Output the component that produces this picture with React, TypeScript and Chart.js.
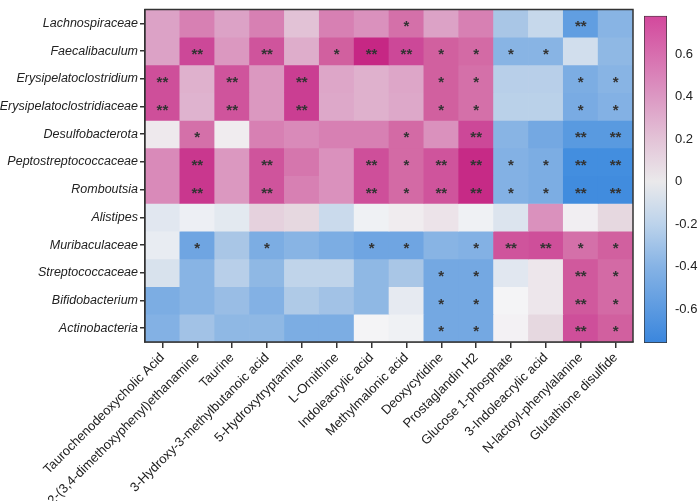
import { useEffect, useRef } from "react";
import { Chart, registerables } from "chart.js";

Chart.register(...registerables);

const FONT = "'Liberation Sans', Arial, Helvetica, sans-serif";

const metabolites = [
  "Taurochenodeoxycholic Acid",
  "2-(3,4-dimethoxyphenyl)ethanamine",
  "Taurine",
  "3-Hydroxy-3-methylbutanoic acid",
  "5-Hydroxytryptamine",
  "L-Ornithine",
  "Indoleacrylic acid",
  "Methylmalonic acid",
  "Deoxycytidine",
  "Prostaglandin H2",
  "Glucose 1-phosphate",
  "3-Indoleacrylic acid",
  "N-lactoyl-phenylalanine",
  "Glutathione disulfide",
];

const taxa = [
  "Lachnospiraceae",
  "Faecalibaculum",
  "Erysipelatoclostridium",
  "Erysipelatoclostridiaceae",
  "Desulfobacterota",
  "Peptostreptococcaceae",
  "Romboutsia",
  "Alistipes",
  "Muribaculaceae",
  "Streptococcaceae",
  "Bifidobacterium",
  "Actinobacteria",
];

// correlation values, one array per taxon (columns follow metabolites)
const lachnospiraceae = [0.35, 0.45, 0.35, 0.45, 0.2, 0.45, 0.4, 0.5, 0.35, 0.45, -0.3, -0.2, -0.55, -0.4];
const faecalibaculum = [0.35, 0.65, 0.38, 0.6, 0.3, 0.55, 0.75, 0.65, 0.55, 0.52, -0.4, -0.4, -0.15, -0.38];
const erysipelatoclostridium = [0.62, 0.28, 0.6, 0.38, 0.68, 0.33, 0.28, 0.33, 0.55, 0.5, -0.25, -0.25, -0.45, -0.4];
const erysipelatoclostridiaceae = [0.62, 0.27, 0.6, 0.38, 0.68, 0.32, 0.28, 0.32, 0.55, 0.5, -0.24, -0.24, -0.46, -0.42];
const desulfobacterota = [0.04, 0.5, 0.03, 0.45, 0.42, 0.45, 0.45, 0.52, 0.4, 0.65, -0.4, -0.48, -0.58, -0.58];
const peptostreptococcaceae = [0.42, 0.7, 0.38, 0.6, 0.48, 0.4, 0.62, 0.52, 0.6, 0.74, -0.42, -0.45, -0.68, -0.68];
const romboutsia = [0.42, 0.7, 0.38, 0.6, 0.45, 0.4, 0.62, 0.52, 0.6, 0.74, -0.42, -0.45, -0.7, -0.7];
const alistipes = [-0.08, -0.03, -0.07, 0.13, 0.1, -0.18, -0.02, 0.03, 0.06, -0.02, -0.1, 0.4, 0.02, 0.1];
const muribaculaceae = [-0.05, -0.5, -0.3, -0.45, -0.4, -0.45, -0.5, -0.5, -0.4, -0.42, 0.6, 0.62, 0.5, 0.55];
const streptococcaceae = [-0.12, -0.4, -0.25, -0.38, -0.22, -0.22, -0.38, -0.3, -0.48, -0.48, -0.08, 0.05, 0.58, 0.52];
const bifidobacterium = [-0.45, -0.4, -0.35, -0.42, -0.28, -0.32, -0.38, -0.06, -0.48, -0.48, 0.0, 0.05, 0.58, 0.52];
const actinobacteria = [-0.42, -0.32, -0.38, -0.38, -0.45, -0.45, 0.0, -0.02, -0.48, -0.48, 0.01, 0.1, 0.62, 0.55];

const values = [
  lachnospiraceae,
  faecalibaculum,
  erysipelatoclostridium,
  erysipelatoclostridiaceae,
  desulfobacterota,
  peptostreptococcaceae,
  romboutsia,
  alistipes,
  muribaculaceae,
  streptococcaceae,
  bifidobacterium,
  actinobacteria,
];

// significance marks per taxon
const sigLachnospiraceae = ["", "", "", "", "", "", "", "*", "", "", "", "", "**", ""];
const sigFaecalibaculum = ["", "**", "", "**", "", "*", "**", "**", "*", "*", "*", "*", "", ""];
const sigErysipelatoclostridium = ["**", "", "**", "", "**", "", "", "", "*", "*", "", "", "*", "*"];
const sigErysipelatoclostridiaceae = ["**", "", "**", "", "**", "", "", "", "*", "*", "", "", "*", "*"];
const sigDesulfobacterota = ["", "*", "", "", "", "", "", "*", "", "**", "", "", "**", "**"];
const sigPeptostreptococcaceae = ["", "**", "", "**", "", "", "**", "*", "**", "**", "*", "*", "**", "**"];
const sigRomboutsia = ["", "**", "", "**", "", "", "**", "*", "**", "**", "*", "*", "**", "**"];
const sigAlistipes = ["", "", "", "", "", "", "", "", "", "", "", "", "", ""];
const sigMuribaculaceae = ["", "*", "", "*", "", "", "*", "*", "", "*", "**", "**", "*", "*"];
const sigStreptococcaceae = ["", "", "", "", "", "", "", "", "*", "*", "", "", "**", "*"];
const sigBifidobacterium = ["", "", "", "", "", "", "", "", "*", "*", "", "", "**", "*"];
const sigActinobacteria = ["", "", "", "", "", "", "", "", "*", "*", "", "", "**", "*"];

const significance = [
  sigLachnospiraceae,
  sigFaecalibaculum,
  sigErysipelatoclostridium,
  sigErysipelatoclostridiaceae,
  sigDesulfobacterota,
  sigPeptostreptococcaceae,
  sigRomboutsia,
  sigAlistipes,
  sigMuribaculaceae,
  sigStreptococcaceae,
  sigBifidobacterium,
  sigActinobacteria,
];

const colorbarMin = -0.76;
const colorbarMax = 0.78;
const colorbarTicks = [-0.6, -0.4, -0.2, 0, 0.2, 0.4, 0.6];

// colour map for cells
const cellStops: [number, string][] = [
  [-0.78, "#3A86DD"],
  [-0.65, "#4690DF"],
  [-0.5, "#6FA5E2"],
  [-0.4, "#88B4E4"],
  [-0.3, "#A9C6E6"],
  [-0.2, "#C6D8EB"],
  [-0.1, "#DCE4EE"],
  [0, "#F4F4F6"],
  [0.1, "#E6D8E0"],
  [0.2, "#E2C2D6"],
  [0.35, "#DCA2C6"],
  [0.45, "#D780B3"],
  [0.55, "#D1609F"],
  [0.65, "#CC4898"],
  [0.78, "#C41D7E"],
];

const barStops: [number, string][] = [
  [-0.76, "#3A86DD"],
  [-0.4, "#86B3E5"],
  [-0.2, "#BCD3EB"],
  [0, "#EAE9EB"],
  [0.2, "#E3C3D7"],
  [0.4, "#DC98C3"],
  [0.78, "#D3489C"],
];

function hexToRgb(h: string) {
  return [parseInt(h.slice(1, 3), 16), parseInt(h.slice(3, 5), 16), parseInt(h.slice(5, 7), 16)];
}

function colorFor(v: number) {
  const s = cellStops;
  if (v <= s[0][0]) return s[0][1];
  if (v >= s[s.length - 1][0]) return s[s.length - 1][1];
  for (let i = 0; i < s.length - 1; i++) {
    const [a, ca] = s[i];
    const [b, cb] = s[i + 1];
    if (v >= a && v <= b) {
      const t = (v - a) / (b - a);
      const A = hexToRgb(ca);
      const B = hexToRgb(cb);
      const m = A.map((x, k) => Math.round(x + (B[k] - x) * t));
      return `rgb(${m[0]},${m[1]},${m[2]})`;
    }
  }
  return "#fff";
}

const cellPlugin = {
  id: "cellMarks",
  afterDatasetsDraw(chart: any) {
    const { ctx, scales } = chart;
    const x = scales.x;
    const y = scales.y;
    ctx.save();
    ctx.fillStyle = "#333";
    ctx.font = `bold 15px ${FONT}`;
    ctx.textAlign = "center";
    ctx.textBaseline = "middle";
    significance.forEach((row, r) => {
      row.forEach((s, c) => {
        if (!s) return;
        ctx.fillText(s, x.getPixelForValue(c), y.getPixelForValue(r + 0.5) + 4);
      });
    });
    ctx.restore();
  },
  afterDraw(chart: any) {
    const { ctx, chartArea } = chart;
    ctx.save();
    ctx.strokeStyle = "#333";
    ctx.lineWidth = 1.5;
    ctx.strokeRect(chartArea.left, chartArea.top, chartArea.right - chartArea.left, chartArea.bottom - chartArea.top);
    ctx.restore();
  },
};

export default function App() {
  const mainRef = useRef<HTMLCanvasElement>(null);
  const barRef = useRef<HTMLCanvasElement>(null);

  useEffect(() => {
    document.body.style.margin = "0";
    const main = new Chart(mainRef.current!, {
      type: "bar",
      data: {
        labels: metabolites,
        datasets: taxa.map((t, r) => ({
          label: t,
          data: metabolites.map(() => [r, r + 1]),
          backgroundColor: values[r].map(colorFor),
          borderWidth: 0,
          barPercentage: 1,
          categoryPercentage: 1,
          grouped: false,
        })) as any,
      },
      options: {
        responsive: false,
        animation: false,
        layout: { padding: { top: 2, right: 66, left: 0, bottom: 0 } },
        plugins: { legend: { display: false }, tooltip: { enabled: false } },
        scales: {
          x: {
            type: "category",
            offset: true,
            grid: { offset: false, drawOnChartArea: false, drawTicks: true, tickLength: 6, color: "#333", lineWidth: 1.5 },
            border: { display: true, color: "#333", width: 1.5 },
            ticks: {
              autoSkip: false,
              maxRotation: 45,
              minRotation: 45,
              padding: 2,
              color: "#222",
              font: { family: FONT, size: 13 },
            },
            afterFit: (s: any) => {
              s.height = 159;
            },
          },
          y: {
            type: "linear",
            min: 0,
            max: 12,
            reverse: true,
            afterBuildTicks: (s: any) => {
              s.ticks = taxa.map((_, i) => ({ value: i + 0.5 }));
            },
            afterFit: (s: any) => {
              s.width = 145;
            },
            ticks: {
              callback: (_v: any, i: number) => taxa[i],
              padding: 2,
              color: "#222",
              font: { family: FONT, size: 12.5, style: "italic" },
            },
            grid: { drawOnChartArea: false, drawTicks: true, tickLength: 5, color: "#333", lineWidth: 1.5 },
            border: { display: true, color: "#333", width: 1.5 },
          },
        },
      } as any,
      plugins: [cellPlugin],
    });

    const bar = new Chart(barRef.current!, {
      type: "bar",
      data: {
        labels: [""],
        datasets: [
          {
            data: [[colorbarMin, colorbarMax]] as any,
            backgroundColor: (ctx: any) => {
              const ch = ctx.chart;
              const area = ch.chartArea;
              if (!area) return "#ddd";
              const g = ch.ctx.createLinearGradient(0, area.bottom, 0, area.top);
              barStops.forEach(([v, c]) => {
                const t = Math.min(1, Math.max(0, (v - colorbarMin) / (colorbarMax - colorbarMin)));
                g.addColorStop(t, c);
              });
              return g;
            },
            borderColor: "#333",
            borderWidth: 1,
            borderSkipped: false,
            barPercentage: 1,
            categoryPercentage: 1,
          } as any,
        ],
      },
      options: {
        responsive: false,
        animation: false,
        layout: { padding: { left: 8, top: 2, bottom: 158, right: 0 } },
        plugins: { legend: { display: false }, tooltip: { enabled: false } },
        scales: {
          x: { display: false },
          y: {
            position: "right",
            min: colorbarMin,
            max: colorbarMax,
            z: 1,
            afterBuildTicks: (s: any) => {
              s.ticks = colorbarTicks.map((v) => ({ value: v }));
            },
            afterFit: (s: any) => {
              s.width = 32;
            },
            ticks: {
              padding: 8,
              color: "#222",
              font: { family: FONT, size: 13 },
              callback: (v: any) => {
                const n = Math.round(Number(v) * 10) / 10;
                return n === 0 ? "0" : String(n);
              },
            },
            grid: { drawOnChartArea: true, drawTicks: false, color: "#555", lineWidth: 1.5 },
            border: { display: false, dash: [4, 15] },
          },
        },
      } as any,
    });

    return () => {
      main.destroy();
      bar.destroy();
    };
  }, []);

  return (
    <div style={{ position: "relative", width: 699, height: 501, background: "#fff", overflow: "hidden" }}>
      <canvas ref={mainRef} width={699} height={501} style={{ position: "absolute", left: 0, top: 0 }} />
      <canvas ref={barRef} width={63} height={501} style={{ position: "absolute", left: 636, top: 0 }} />
    </div>
  );
}
